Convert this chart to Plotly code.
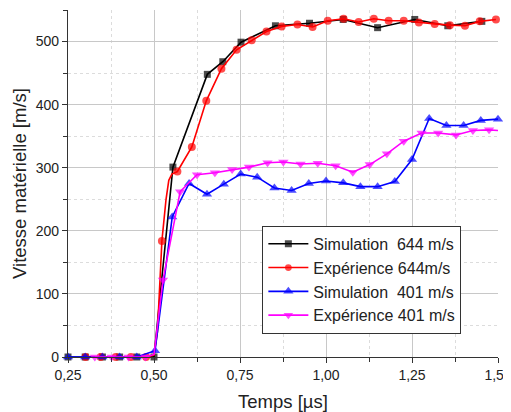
import plotly.graph_objects as go

# ---- data ----
sim644_x = [0.25, 0.30, 0.35, 0.40, 0.45, 0.50, 0.555, 0.655, 0.70, 0.753, 0.853, 0.952, 1.05, 1.15, 1.258, 1.354, 1.453]
sim644_y = [0, 0, 0, 0, 0, 0, 301, 448, 468, 499, 525, 529, 535, 522, 535, 525, 532]
sim644_m = [1] * len(sim644_x)

exp644_x = [0.301, 0.345, 0.389, 0.433, 0.477, 0.50, 0.51, 0.523, 0.535, 0.543, 0.552, 0.568, 0.61, 0.652,
            0.696, 0.74, 0.784, 0.827, 0.871, 0.917, 0.961, 1.005, 1.051, 1.095, 1.139, 1.182,
            1.226, 1.27, 1.316, 1.36, 1.404, 1.447, 1.494]
exp644_y = [0, 0, 0, 0, 0, 3, 40, 184, 250, 280, 290, 294, 333, 406,
            457, 487, 502, 516, 524, 527, 523, 533, 536, 531, 536, 533,
            533, 530, 528, 526, 525, 532, 535]
exp644_m = [1, 1, 1, 1, 1, 0, 0, 1, 0, 0, 0, 1, 1, 1,
            1, 1, 1, 1, 1, 1, 1, 1, 1, 1, 1, 1,
            1, 1, 1, 1, 1, 1, 1]

sim401_x = [0.25, 0.30, 0.35, 0.40, 0.45, 0.503, 0.553, 0.602, 0.654, 0.703, 0.752, 0.80, 0.85, 0.90,
            0.95, 1.00, 1.05, 1.10, 1.15, 1.20, 1.25, 1.30, 1.35, 1.40, 1.45, 1.50]
sim401_y = [0, 0, 0, 0, 0, 10, 222, 275, 258, 274, 290, 285, 268, 264,
            275, 279, 276, 270, 270, 278, 313, 378, 367, 367, 375, 377]
sim401_m = [1] * len(sim401_x)

exp401_x = [0.328, 0.377, 0.426, 0.475, 0.50, 0.526, 0.576, 0.625, 0.677, 0.727, 0.776, 0.83, 0.876,
            0.926, 0.976, 1.028, 1.078, 1.127, 1.177, 1.226, 1.278, 1.326, 1.378, 1.427, 1.474, 1.50]
exp401_y = [0, 0, 0, 0, 4, 122, 262, 289, 292, 297, 301, 308, 309,
            306, 307, 303, 293, 305, 322, 342, 355, 355, 352, 359, 360, 359]
exp401_m = [1, 1, 1, 1, 0, 1, 1, 1, 1, 1, 1, 1, 1,
            1, 1, 1, 1, 1, 1, 1, 1, 1, 1, 1, 1, 0]

x_tickvals = [0.25, 0.50, 0.75, 1.00, 1.25, 1.50]
y_tickvals = [0, 100, 200, 300, 400, 500]

FONT = "Liberation Sans, Arial, sans-serif"

series = [
    ("Simulation  644 m/s", sim644_x, sim644_y, sim644_m, "#000000", "square", 7),
    ("Expérience 644m/s", exp644_x, exp644_y, exp644_m, "#ff0000", "circle", 8),
    ("Simulation  401 m/s", sim401_x, sim401_y, sim401_m, "#0000ff", "triangle-up", 9),
    ("Expérience 401 m/s", exp401_x, exp401_y, exp401_m, "#ff00ff", "triangle-down", 9),
]

fig = go.Figure()
for name, xs, ys, ms, color, sym, sz in series:
    fig.add_trace(go.Scatter(
        x=xs, y=ys, name=name, mode="lines+markers",
        line=dict(color=color, width=1.6),
        marker=dict(symbol=sym, color=color, size=[sz * m for m in ms], line=dict(width=0)),
        cliponaxis=False,
    ))

axis_common = dict(
    automargin=False,
    showline=True, linecolor="#333333", linewidth=1.2,
    ticks="outside", ticklen=5, tickwidth=1.2, tickcolor="#333333",
    showgrid=True, gridcolor="#c8c8c8", gridwidth=1,
    zeroline=False,
    ticklabeloverflow="allow",
    tickfont=dict(family=FONT, size=14, color="#222222"),
)

# the page body adds an 8 px offset, so the figure is sized to the visible window
fig.update_layout(
    width=503, height=404,
    margin=dict(l=60, r=13, t=2, b=55),
    paper_bgcolor="white", plot_bgcolor="white",
    separators=", ",
    font=dict(family=FONT, color="#222222"),
    xaxis=dict(
        range=[0.25, 1.50], tickvals=x_tickvals, tickformat=".2f",
        minor=dict(dtick=0.125, tick0=0.25, showgrid=True, gridcolor="#dcdcdc", griddash="dot",
                   ticks="outside", ticklen=4, tickcolor="#333333"),
        title=dict(text="Temps [µs]", font=dict(family=FONT, size=18.5, color="#222222"), standoff=14),
        **axis_common,
    ),
    yaxis=dict(
        range=[0, 550], tickvals=y_tickvals,
        minor=dict(dtick=50, tick0=0, showgrid=True, gridcolor="#dcdcdc", griddash="dot",
                   ticks="outside", ticklen=4, tickcolor="#333333"),
        title=dict(text="Vitesse matérielle [m/s]", font=dict(family=FONT, size=18.5, color="#222222"), standoff=4),
        **axis_common,
    ),
    legend=dict(
        x=0.452, y=0.378, xanchor="left", yanchor="top",
        bgcolor="white", bordercolor="#333333", borderwidth=1,
        font=dict(family=FONT, size=16, color="#222222"),
        itemwidth=40, tracegroupgap=0,
    ),
    showlegend=True,
)

fig.write_html("out.html")
